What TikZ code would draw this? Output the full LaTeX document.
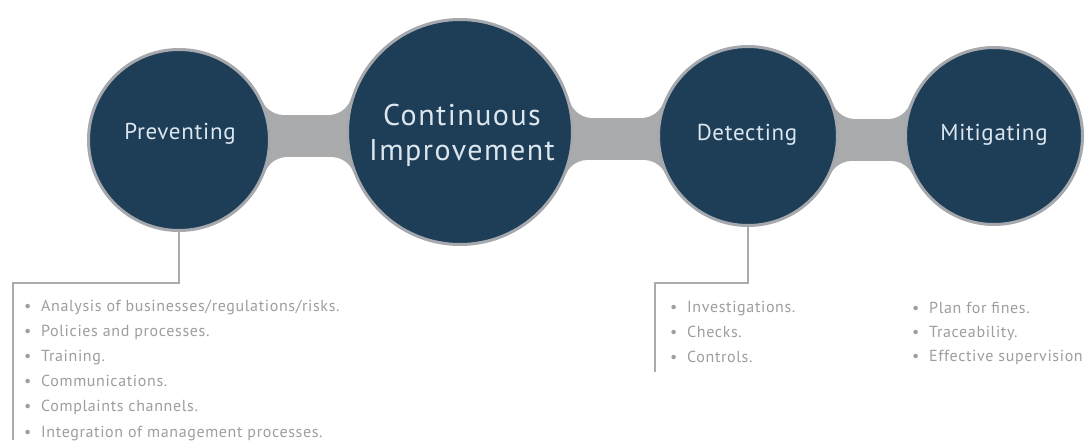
\documentclass[tikz,border=0pt]{standalone}
\usepackage{fontspec}
\setmainfont{PT Sans}
\newfontfamily\circfont[LetterSpace=3]{PT Sans}
\newfontfamily\cifont[LetterSpace=5]{PT Sans}
\newfontfamily\listfont[LetterSpace=4]{PT Sans}
\definecolor{navy}{HTML}{1E3D56}
\definecolor{rimgrey}{HTML}{A5A9AD}
\definecolor{bandgrey}{HTML}{A9ABAD}
\definecolor{circtext}{HTML}{DCE6EE}
\definecolor{listtext}{HTML}{9E9E9E}
\definecolor{treegrey}{HTML}{ABABAB}
\newcommand\bandshape[7]{%
  \pgfmathsetmacro\bandh{21}%
  \pgfmathsetmacro\bandf{24}%
  \pgfmathsetmacro\ytop{#7-\bandh-\bandf}%
  \pgfmathsetmacro\ybot{#7+\bandh+\bandf}%
  \pgfmathsetmacro\xat{#1+100*sqrt(((#3+\bandf)/100)^2-((\ytop-#2)/100)^2)}%
  \pgfmathsetmacro\xab{#1+100*sqrt(((#3+\bandf)/100)^2-((\ybot-#2)/100)^2)}%
  \pgfmathsetmacro\xbt{#4-100*sqrt(((#6+\bandf)/100)^2-((\ytop-#5)/100)^2)}%
  \pgfmathsetmacro\xbb{#4-100*sqrt(((#6+\bandf)/100)^2-((\ybot-#5)/100)^2)}%
  \pgfmathsetmacro\ka{#3/(#3+\bandf)}%
  \pgfmathsetmacro\kb{#6/(#6+\bandf)}%
  \fill[bandgrey] ({#1+\ka*(\xat-#1)},{#2+\ka*(\ytop-#2)})
    -- ({#4+\kb*(\xbt-#4)},{#5+\kb*(\ytop-#5)})
    -- ({#4+\kb*(\xbb-#4)},{#5+\kb*(\ybot-#5)})
    -- ({#1+\ka*(\xab-#1)},{#2+\ka*(\ybot-#2)}) -- cycle;
  \fill[white] (\xat,\ytop) circle[radius=\bandf] (\xbt,\ytop) circle[radius=\bandf]
               (\xab,\ybot) circle[radius=\bandf] (\xbb,\ybot) circle[radius=\bandf];
  \fill[white] (\xat,\ytop) rectangle (\xbt,{#7-\bandh});
  \fill[white] (\xab,\ybot) rectangle (\xbb,{#7+\bandh});
}
\newcommand\bul{\makebox[17pt][l]{\textbullet}}
\begin{document}
\begin{tikzpicture}[x=1pt,y=-1pt,
  ball/.style={circle,fill=navy,draw=rimgrey,line width=3pt,inner sep=0pt},
  ctext/.style={text=circtext,inner sep=0pt,anchor=base},
  item/.style={text=listtext,inner sep=0pt,anchor=base west,font=\listfont\fontsize{16}{16}\selectfont},
  tree/.style={draw=treegrey,line width=1.2pt}]
\useasboundingbox[fill=white] (0,0) rectangle (1087,440);
% bands
\bandshape{179}{140}{92}{460}{132}{114}{136}
\bandshape{460}{132}{114}{748}{136}{91}{139}
\bandshape{748}{136}{91}{994}{136}{90}{140}
% circles
\node[ball,minimum size=181pt] (prev) at (179,140) {};
\node[ball,minimum size=225pt] (ci) at (460,132) {};
\node[ball,minimum size=179pt] (det) at (748,136) {};
\node[ball,minimum size=177pt] (mit) at (994,136) {};
% circle texts
\node[ctext,font=\circfont\fontsize{23}{23}\selectfont] (prevt) at (180,139) {Preventing};
\node[ctext,font=\cifont\fontsize{30}{30}\selectfont] (cit1) at (462,125) {Continuous};
\node[ctext,font=\cifont\fontsize{30}{30}\selectfont] (cit2) at (462,160) {Improvement};
\node[ctext,font=\circfont\fontsize{23}{23}\selectfont] (dett) at (747,140) {Detecting};
\node[ctext,font=\circfont\fontsize{23}{23}\selectfont] (mitt) at (994,140) {Mitigating};
% tree lines
\coordinate (pc) at (13,283);
\coordinate (pe) at (13,440);
\draw[tree] (prev.south) |- (pc) -- (pe);
\coordinate (dc) at (655,283);
\coordinate (de) at (655,372);
\draw[tree] (det.south) |- (dc) -- (de);
% lists
\foreach \t [count=\i from 0] in {Analysis of businesses/regulations/risks.,Policies and processes.,Training.,Communications.,Complaints channels.,Integration of management processes.}
  \node[item] (pl\i) at (24,{311+25.2*\i}) {\bul\t};
\foreach \t [count=\i from 0] in {Investigations.,Checks.,Controls.}
  \node[item] (dl\i) at (670,{312+25*\i}) {\bul\t};
\foreach \t [count=\i from 0] in {Plan for fines.,Traceability.,Effective supervision}
  \node[item] (ml\i) at (912,{313+24*\i}) {\bul\t};
\end{tikzpicture}
\end{document}
